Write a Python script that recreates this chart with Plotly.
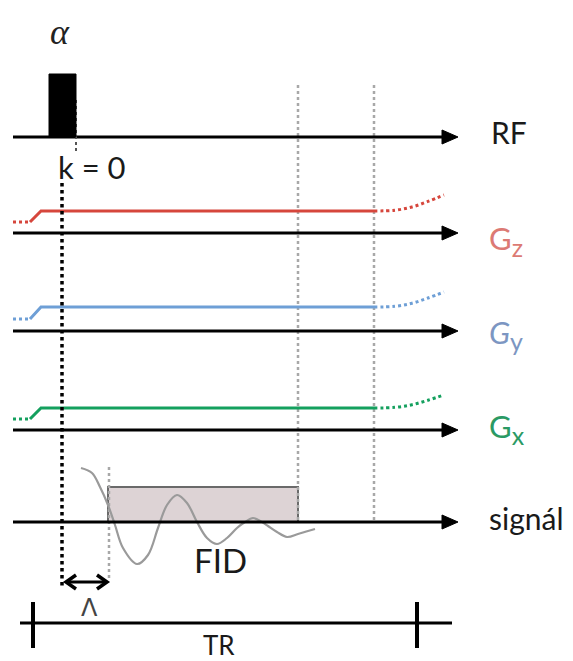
import plotly.graph_objects as go

W, H = 573, 661
PAGE_MARGIN = 8  # default body margin of the html page

# ---- diagram data (pixel-space layout) ----
row_names = ["RF", "Gz", "Gy", "Gx", "signál"]
row_axis_y = [137, 233, 331, 430, 522]
axis_x_start = 13
axis_x_tip = 458

grad_names = ["Gz", "Gy", "Gx"]
grad_subs = ["z", "y", "x"]
grad_colors = ["#d6463c", "#6e9fd6", "#14a05e"]
label_colors = ["#dc7a74", "#7c96c2", "#2a9a64"]
grad_level_y = [211, 307, 408]
grad_pre_y = [222, 319, 419]
grad_end_rise = [16, 15, 13]
label_y = [240, 334, 428]

t_ramp0, t_ramp1 = 30, 41
t_k0 = 62
t_acq0 = 108
t_acq1 = 298
t_end = 374
t_tail = [374, 395, 412, 428, 444]
tail_shape = [0.0, 0.05, 0.25, 0.6, 1.0]

rf_pulse_x = [49, 76]
rf_pulse_top = 74

fid_x = [81, 92, 100, 108, 115, 123, 137, 148, 158, 167, 177, 187, 197, 207, 217, 227, 237, 245, 253, 262, 268, 277, 287, 298, 308, 315]
fid_y = [468, 473, 487, 505, 525, 548, 564, 555, 528, 505, 495, 503, 522, 538, 544, 538, 528, 522, 518, 522, 526, 532, 537, 534, 531, 529]

tr_x = [20, 452]
tr_ticks = [33, 417]
tr_y = 623

fig = go.Figure()
shapes = []

def line(x, y, color="black", width=3, dash="solid", shape="linear"):
    fig.add_trace(go.Scatter(x=x, y=y, mode="lines", hoverinfo="skip",
                             line=dict(color=color, width=width, dash=dash, shape=shape)))

# acquisition box
shapes.append(dict(type="rect", x0=t_acq0, x1=t_acq1, y0=487, y1=row_axis_y[4],
                   fillcolor="#ddd3d5", line=dict(color="#6a6a6a", width=2), layer="below"))

# gray dotted timing lines
line([t_acq1, t_acq1], [85, row_axis_y[4]], color="#a8a8a8", width=2.5, dash="dot")
line([t_end, t_end], [85, row_axis_y[4]], color="#a8a8a8", width=2.5, dash="dot")
line([t_acq0 + 1, t_acq0 + 1], [467, 578], color="#a8a8a8", width=2.5, dash="dot")

# FID
line(fid_x, fid_y, color="#9a9a9a", width=2.2, shape="spline")

# axes with arrowheads
for yv in row_axis_y:
    line([axis_x_start, axis_x_tip - 12], [yv, yv], width=3)
    shapes.append(dict(type="path",
                       path=f"M {axis_x_tip-16} {yv-7} L {axis_x_tip} {yv} L {axis_x_tip-16} {yv+7} Z",
                       fillcolor="black", line=dict(color="black", width=1)))

# RF pulse
shapes.append(dict(type="rect", x0=rf_pulse_x[0], x1=rf_pulse_x[1], y0=rf_pulse_top, y1=row_axis_y[0],
                   fillcolor="black", line=dict(color="black", width=1)))

# gradients
for i in range(3):
    c = grad_colors[i]
    line([axis_x_start, t_ramp0], [grad_pre_y[i]] * 2, color=c, width=3, dash="dot")
    line([t_ramp0, t_ramp1, t_end], [grad_pre_y[i], grad_level_y[i], grad_level_y[i]], color=c, width=3)
    line(t_tail, [grad_level_y[i] - grad_end_rise[i] * s for s in tail_shape], color=c, width=3,
         dash="dot", shape="spline")

# k = 0 dotted line
line([t_k0, t_k0], [183, 586], color="black", width=3.5, dash="dot")
line([rf_pulse_x[1], rf_pulse_x[1]], [100, 153], color="#555555", width=2, dash="dot")

# delta double arrow
ay = 582
line([68, 105], [ay, ay], width=3)
shapes.append(dict(type="path", path=f"M 76 {ay-7} L 66 {ay} L 76 {ay+7}", line=dict(color="black", width=3.5)))
shapes.append(dict(type="path", path=f"M 97 {ay-7} L 107 {ay} L 97 {ay+7}", line=dict(color="black", width=3.5)))

# TR bar
line(tr_x, [tr_y, tr_y], width=3)
for tx in tr_ticks:
    line([tx, tx], [602, 648], width=4)

# ---- text ----
ann = []
FONT = "Lato, sans-serif"
def text(x, y, s, size=24, color="#1a1a1a", family=FONT, xanchor="left"):
    ann.append(dict(x=x, y=y, text=s, showarrow=False, xanchor=xanchor, yanchor="middle",
                    font=dict(size=size, color=color, family=family)))

text(60, 32, "<i>α</i>", size=36, color="#222222", family="Liberation Serif, serif", xanchor="center")
text(56, 167, "k = 0", size=31)
text(489, 132, "RF", size=30)
for i in range(3):
    gtxt = "<i>G</i>" if i == 1 else "G"
    text(487, label_y[i], gtxt + "<sub><span style='font-size:25px'>" + grad_subs[i] + "</span></sub>",
         size=31, color=label_colors[i])
text(487, 518, "signál", size=30)
text(220, 560, "FID", size=33, xanchor="center")
text(89, 608, "Λ", size=24, color="#444444", family="DejaVu Sans, sans-serif", xanchor="center")
text(219, 645, "TR", size=26, xanchor="center")

fig.update_layout(
    width=W, height=H, margin=dict(l=0, r=0, t=0, b=0),
    paper_bgcolor="white", plot_bgcolor="white", showlegend=False,
    xaxis=dict(range=[PAGE_MARGIN, W + PAGE_MARGIN], visible=False, fixedrange=True),
    yaxis=dict(range=[H + PAGE_MARGIN, PAGE_MARGIN], visible=False, fixedrange=True),
    shapes=shapes, annotations=ann,
)
fig.write_html("out.html")
